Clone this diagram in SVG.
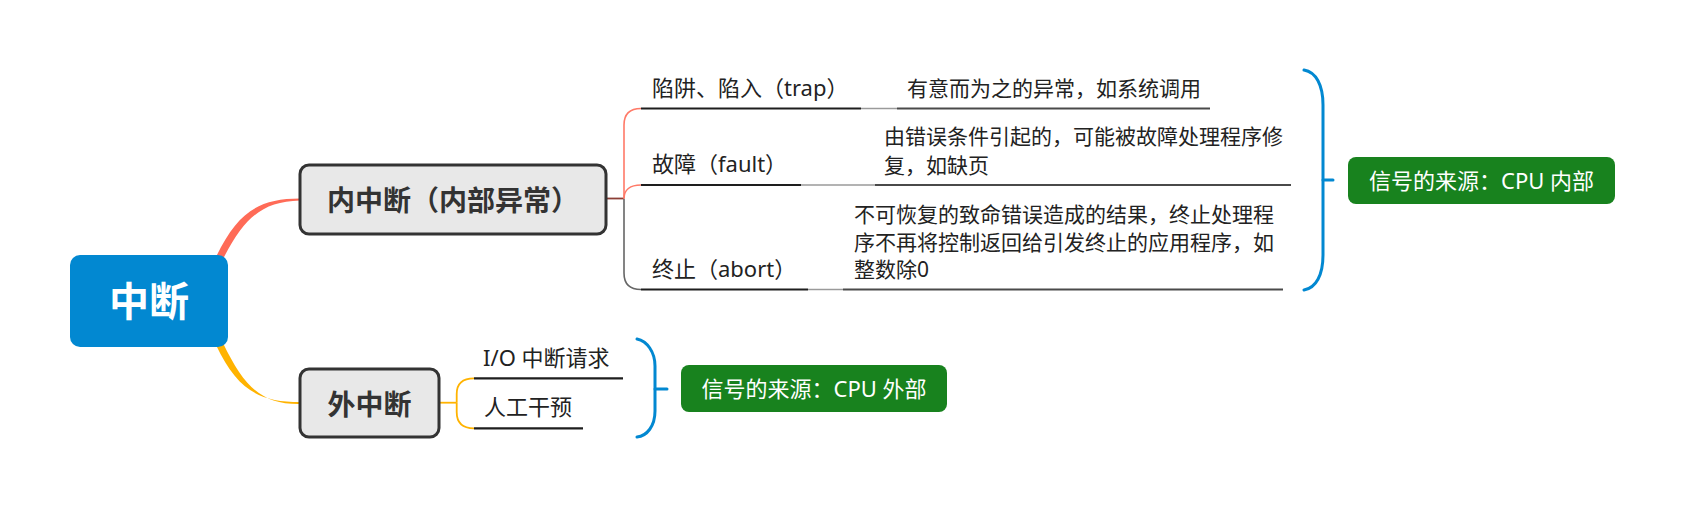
<svg xmlns="http://www.w3.org/2000/svg" width="1684" height="508" viewBox="0 0 1684 508">
<style>
text{font-family:"Noto Sans","Noto Sans CJK SC",sans-serif}
.lbl{font-size:22px;fill:#222}
.desc{font-size:21px;fill:#222}
.box{fill:#E8E8E8;stroke:#333;stroke-width:3}
.tb{font-size:28px;font-weight:bold;fill:#333}
.ul{stroke:#1e1e1e;stroke-width:2.2;fill:none}
.dul{stroke:#4a4a4a;stroke-width:2;fill:none}
.lk{stroke:#9a9a9a;stroke-width:1.6;fill:none}
.br{fill:none;stroke:#0288D1;stroke-width:3;stroke-linecap:round}
.gbox{fill:#18821E}
.gt{font-size:22px;fill:#fff}
.sal{stroke:#FF7A68;stroke-width:1.6;fill:none}
.gry{stroke:#666;stroke-width:1.6;fill:none}
.yel{stroke:#FFB300;stroke-width:1.8;fill:none}
</style>
<rect width="1684" height="508" fill="#fff"/>
<g id="connectors">
<path d="M216,257 C237,213 258,198.5 300,198.5 L300,200.5 C262,201.5 244,218 223,259 Z" fill="#FF6B57"/>
<path d="M216,345 C237,389 258,402 300,402 L300,404 C262,404.5 244,387 223,343 Z" fill="#FFB300"/>
<path d="M606,198.5 H624" stroke="#8c3f36" stroke-width="1.8" fill="none"/>
<path class="gry" d="M624,198.5 V273 Q624,289.5 641,289.5"/>
<path class="sal" d="M624,198.5 V125 Q624,108.5 641,108.5"/>
<path class="sal" d="M624,198.5 C624,190 630,185 641,185"/>
<path class="yel" d="M439,402.7 H456.7"/>
<path class="yel" d="M456.7,402.7 V394 Q456.7,378.3 474,378.3"/>
<path class="yel" d="M456.7,402.7 V412 Q456.7,428.3 474,428.3"/>
<path class="lk" d="M861,108.5 H897"/>
<path class="lk" d="M801,185 H875"/>
<path class="lk" d="M808,289.5 H843"/>
<path class="br" d="M1304,70 C1316,72 1323,85 1323,105 V255 C1323,275 1316,288 1304,290"/>
<path class="br" d="M1323,180 H1333"/>
<path class="br" d="M637,339 C647,341 655,352 655,366 V411 C655,426 647,436 637,437"/>
<path class="br" d="M655,389 H667"/>
</g>
<g id="root">
<rect x="70" y="255" width="158" height="92" rx="10" fill="#0288D1"/>
<text x="149" y="315.5" text-anchor="middle" font-size="40" font-weight="bold" fill="#fff">中断</text>
</g>
<g id="internal">
<rect class="box" x="300" y="165" width="306" height="69" rx="9"/>
<text class="tb" x="453" y="210.5" text-anchor="middle">内中断（内部异常）</text>
</g>
<g id="external">
<rect class="box" x="300" y="369" width="139" height="68" rx="9"/>
<text class="tb" x="369.5" y="414.5" text-anchor="middle">外中断</text>
</g>
<g id="trap">
<text class="lbl" x="652" y="96">陷阱、陷入（trap）</text>
<path class="ul" d="M641,108.5 H861"/>
</g>
<g id="trap-desc">
<text class="desc" x="907" y="96.3">有意而为之的异常，如系统调用</text>
<path class="dul" d="M897,108.5 H1210"/>
</g>
<g id="fault">
<text class="lbl" x="652" y="172.4">故障（fault）</text>
<path class="ul" d="M641,185 H801"/>
</g>
<g id="fault-desc">
<text class="desc" x="884" y="144">由错误条件引起的，可能被故障处理程序修</text>
<text class="desc" x="884" y="173">复，如缺页</text>
<path class="dul" d="M875,185 H1291"/>
</g>
<g id="abort">
<text class="lbl" x="652" y="277.4">终止（abort）</text>
<path class="ul" d="M641,289.5 H808"/>
</g>
<g id="abort-desc">
<text class="desc" x="854" y="222">不可恢复的致命错误造成的结果，终止处理程</text>
<text class="desc" x="854" y="249.5">序不再将控制返回给引发终止的应用程序，如</text>
<text class="desc" x="854" y="277">整数除0</text>
<path class="dul" d="M843,289.5 H1283"/>
</g>
<g id="io">
<text class="lbl" x="483" y="366.4">I/O 中断请求</text>
<path class="ul" d="M474,378.3 H623"/>
</g>
<g id="manual">
<text class="lbl" x="484" y="415">人工干预</text>
<path class="ul" d="M474,428.3 H583"/>
</g>
<g id="source-internal">
<rect class="gbox" x="1348" y="157" width="267" height="47" rx="8"/>
<text class="gt" x="1481.5" y="188.9" text-anchor="middle">信号的来源：CPU 内部</text>
</g>
<g id="source-external">
<rect class="gbox" x="681" y="365" width="266" height="47" rx="8"/>
<text class="gt" x="814" y="397.4" text-anchor="middle">信号的来源：CPU 外部</text>
</g>
</svg>
